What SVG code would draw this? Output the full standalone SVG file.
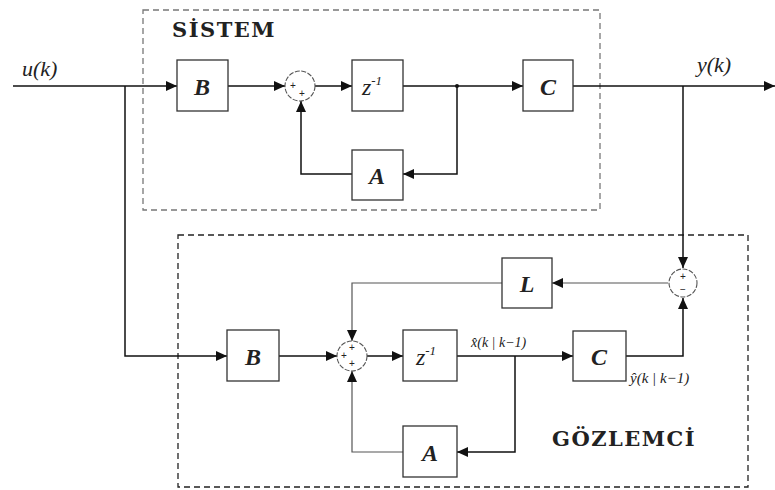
<svg xmlns="http://www.w3.org/2000/svg" width="775" height="490" viewBox="0 0 775 490">
<style>
.box{fill:#fff;stroke:#333;stroke-width:1.3}
.ln{fill:none;stroke:#111;stroke-width:1.5}
.lg{fill:none;stroke:#555;stroke-width:1.2}
.sum{fill:#fff;stroke:#555;stroke-width:1.1;stroke-dasharray:5 1.5}
.lbl{font-family:"Liberation Serif",serif;font-style:italic;font-weight:bold;font-size:24px;fill:#222;text-anchor:middle}
.sig{font-family:"Liberation Sans",sans-serif;font-size:10px;fill:#222;text-anchor:middle}
.math{font-family:"Liberation Serif",serif;font-style:italic;fill:#222}
.title{font-family:"DejaVu Serif",serif;font-weight:bold;font-size:21px;fill:#222;letter-spacing:1.5px}
</style>
<defs>
<marker id="ar" markerUnits="userSpaceOnUse" markerWidth="12" markerHeight="10" refX="11" refY="5" orient="auto">
<path d="M0,0 L11,5 L0,10 z" fill="#111"/>
</marker>
</defs>
<rect width="775" height="490" fill="#fff"/>
<!-- frames -->
<rect x="143" y="10" width="457" height="200" fill="none" stroke="#777" stroke-width="1.3" stroke-dasharray="6 4"/>
<rect x="178" y="235" width="570" height="252" fill="none" stroke="#222" stroke-width="1.3" stroke-dasharray="6 4"/>
<text class="title" x="172" y="37">SİSTEM</text>
<text class="title" x="552" y="446">GÖZLEMCİ</text>
<!-- connectors -->
<g id="connectors">
<path class="ln" d="M13,86 H177" marker-end="url(#ar)"/>
<path class="ln" d="M228,86 H285" marker-end="url(#ar)"/>
<path class="ln" d="M315,86 H352" marker-end="url(#ar)"/>
<path class="ln" d="M403,86 H523" marker-end="url(#ar)"/>
<path class="ln" d="M457,86 V174 H403" marker-end="url(#ar)"/>
<path class="ln" d="M352,174 H301 V101" marker-end="url(#ar)"/>
<path class="ln" d="M573,86 H775" marker-end="url(#ar)"/>
<circle cx="457" cy="86" r="2" fill="#111"/>
<path class="ln" d="M125,86 V356 H227" marker-end="url(#ar)"/>
<path class="ln" d="M279,356 H337" marker-end="url(#ar)"/>
<path class="ln" d="M367,356 H403" marker-end="url(#ar)"/>
<path class="ln" d="M457,356 H573" marker-end="url(#ar)"/>
<path class="ln" d="M515,356 V452 H457" marker-end="url(#ar)"/>
<path class="lg" d="M403,452 H352 V371" marker-end="url(#ar)"/>
<path class="ln" d="M626,356 H683 V298" marker-end="url(#ar)"/>
<path class="ln" d="M683,86 V268" marker-end="url(#ar)"/>
<path class="lg" d="M668,283 H552" marker-end="url(#ar)"/>
<path class="lg" d="M502,283 H352 V341" marker-end="url(#ar)"/>
</g>
<!-- system nodes -->
<g id="B1"><rect class="box" x="177" y="60" width="51" height="51"/><text class="lbl" x="202" y="95">B</text></g>
<g id="S1"><circle class="sum" cx="300" cy="86" r="15"/><text class="sig" x="293" y="89">+</text><text class="sig" x="302" y="97">+</text></g>
<g id="Z1"><rect class="box" x="352" y="60" width="51" height="51"/><text class="math" x="372" y="95" font-size="24" text-anchor="middle">z<tspan font-size="13" dy="-10">-1</tspan></text></g>
<g id="C1"><rect class="box" x="523" y="60" width="50" height="51"/><text class="lbl" x="548" y="95">C</text></g>
<g id="A1"><rect class="box" x="352" y="150" width="51" height="50"/><text class="lbl" x="377" y="184">A</text></g>
<!-- observer nodes -->
<g id="B2"><rect class="box" x="227" y="330" width="52" height="51"/><text class="lbl" x="253" y="365">B</text></g>
<g id="S2"><circle class="sum" cx="352" cy="356" r="15"/><text class="sig" x="352" y="351">+</text><text class="sig" x="344" y="359">+</text><text class="sig" x="352" y="367">+</text></g>
<g id="Z2"><rect class="box" x="403" y="330" width="54" height="51"/><text class="math" x="426" y="365" font-size="24" text-anchor="middle">z<tspan font-size="13" dy="-10">-1</tspan></text></g>
<g id="C2"><rect class="box" x="573" y="331" width="53" height="50"/><text class="lbl" x="599" y="365">C</text></g>
<g id="A2"><rect class="box" x="403" y="426" width="54" height="51"/><text class="lbl" x="430" y="461">A</text></g>
<g id="L"><rect class="box" x="502" y="258" width="50" height="50"/><text class="lbl" x="527" y="292">L</text></g>
<g id="S3"><circle class="sum" cx="683" cy="283" r="14"/><text class="sig" x="683" y="280">+</text><text class="sig" x="683" y="293">−</text></g>
<!-- signal labels -->
<text class="math" x="22" y="76" font-size="22">u(k)</text>
<text class="math" x="697" y="72" font-size="22">y(k)</text>
<text class="math" x="471" y="347" font-size="14">x̂(k | k−1)</text>
<text class="math" x="630" y="383" font-size="15">ŷ(k | k−1)</text>
</svg>
